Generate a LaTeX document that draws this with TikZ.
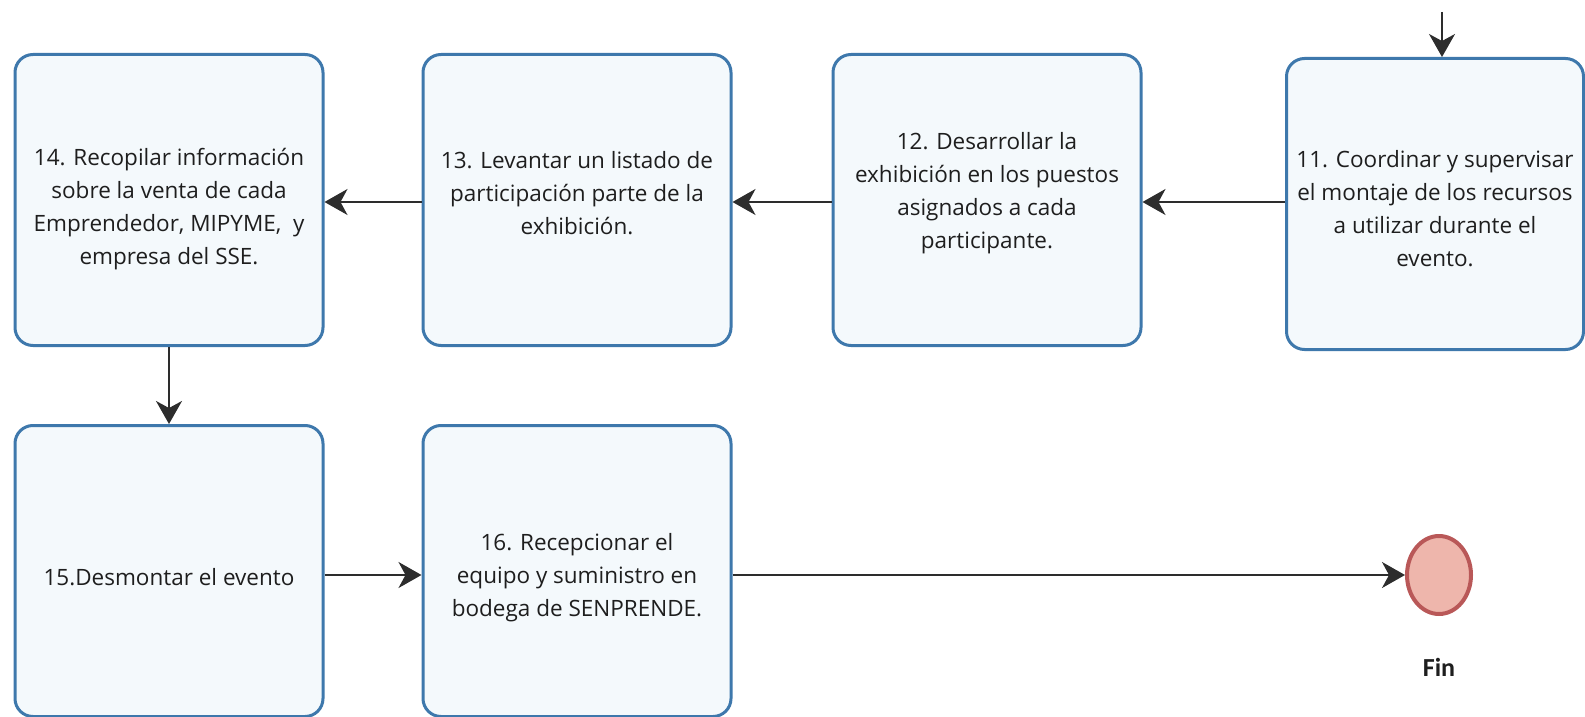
\documentclass[tikz,border=0pt]{standalone}
\usepackage{fontspec}
\setmainfont{Open Sans}
\newfontfamily\labelfont{Carlito}
\usetikzlibrary{arrows.meta,shapes.geometric}
\definecolor{boxline}{RGB}{62,120,172}
\definecolor{boxfill}{RGB}{244,249,252}
\definecolor{finfill}{RGB}{238,182,172}
\definecolor{finline}{RGB}{185,88,88}
\definecolor{arr}{RGB}{45,45,45}
\definecolor{txt}{RGB}{30,30,30}
\begin{document}
\begin{tikzpicture}[x=1pt,y=-1pt,
  procbox/.style={draw=boxline, fill=boxfill, line width=3pt, rounded corners=18pt,
    minimum width=308pt, minimum height=291pt, inner sep=0pt},
  boxtext/.style={align=center, font=\fontsize{22.5}{33}\selectfont, text=txt, inner sep=0pt},
  flow/.style={draw=arr, line width=1.8pt, -{Stealth[length=23pt,width=26pt,inset=7pt]}}]
\useasboundingbox (0,0) rectangle (1585,717);
\node[procbox] (n14) at (169,200) {};
\node[procbox] (n13) at (577,200) {};
\node[procbox] (n12) at (987,200) {};
\node[procbox, minimum width=297pt] (n11) at (1435,204) {};
\node[procbox] (n15) at (169,571) {};
\node[procbox] (n16) at (577,571) {};
\node[boxtext] (t14) at (169,209) {14. Recopilar información\\sobre la venta de cada\\Emprendedor, MIPYME,\ \ y\\empresa del SSE.};
\node[boxtext] (t13) at (577,193) {13. Levantar un listado de\\participación parte de la\\exhibición.};
\node[boxtext] (t12) at (987,193) {12. Desarrollar la\\exhibición en los puestos\\asignados a cada\\participante.};
\node[boxtext] (t11) at (1435,209) {11. Coordinar y supervisar\\el montaje de los recursos\\a utilizar durante el\\evento.};
\node[boxtext] (t15) at (169,577) {15.Desmontar el evento};
\node[boxtext] (t16) at (577,578) {16. Recepcionar el\\equipo y suministro en\\bodega de SENPRENDE.};
\node[ellipse, draw=finline, fill=finfill, line width=4pt, minimum width=64pt, minimum height=78pt, inner sep=0pt] (fin) at (1439,575) {};
\node[font=\labelfont\bfseries\fontsize{26}{30}\selectfont, text=txt] (finlabel) at (1439,667) {Fin};
\coordinate (start) at (1442,12);
\draw[flow] (start) -- (start |- n11.north);
\draw[flow] (n11.west |- 0,202) -- (n12.east |- 0,202);
\draw[flow] (n12.west |- 0,202) -- (n13.east |- 0,202);
\draw[flow] (n13.west |- 0,202) -- (n14.east |- 0,202);
\draw[flow] (n14.south) -- (n15.north);
\draw[flow] (n15.east |- 0,575) -- (n16.west |- 0,575);
\draw[flow] (n16.east |- 0,575) -- (fin.west);
\end{tikzpicture}
\end{document}
